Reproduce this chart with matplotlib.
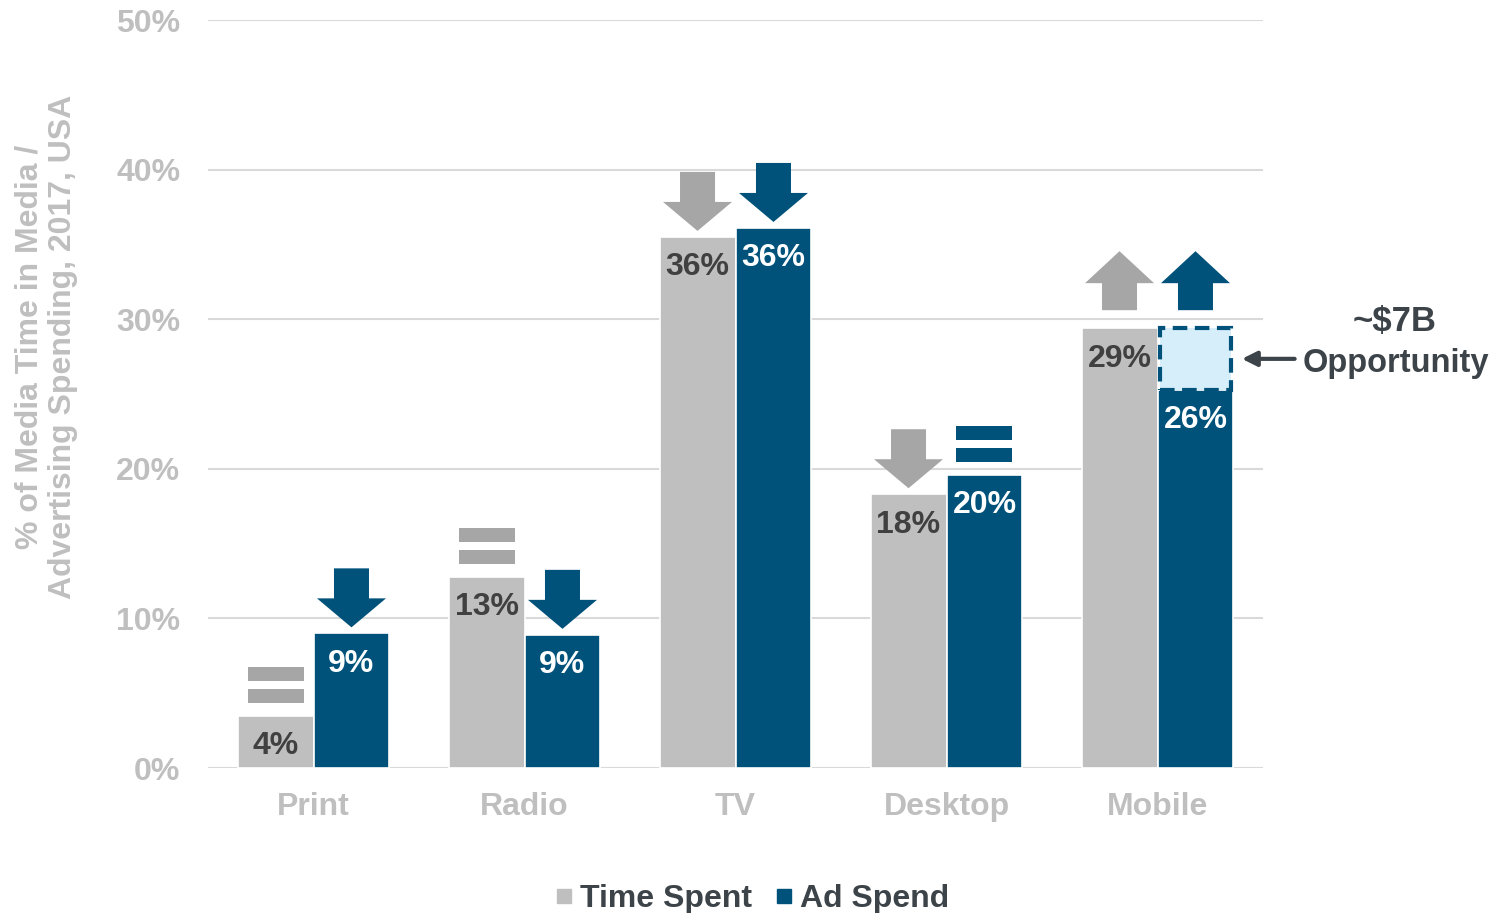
import matplotlib
matplotlib.use("Agg")
import matplotlib.pyplot as plt
from matplotlib.patches import Polygon, Rectangle
from matplotlib.lines import Line2D

plt.rcParams['font.family'] = ['Liberation Sans', 'DejaVu Sans']

categories = ["Print", "Radio", "TV", "Desktop", "Mobile"]
time_spent = [3.5, 12.8, 35.5, 18.3, 29.4]
ad_spend = [9.0, 8.9, 36.1, 19.6, 25.3]
time_labels = ["4%", "13%", "36%", "18%", "29%"]
ad_labels = ["9%", "9%", "36%", "20%", "26%"]
time_trend = ["equal", "equal", "down", "down", "up"]
ad_trend = ["down", "down", "down", "equal", "up"]
opportunity_top = 29.4  # Mobile ad spend potential
yticks = [0, 10, 20, 30, 40, 50]

GRAY = "#bfbfbf"
GRAY_IND = "#a6a6a6"
BLUE = "#00527b"
LIGHT = "#d6eefa"
DARK = "#3d4449"
TICK = "#bfbfbf"

W, H = 1499, 913
fig = plt.figure(figsize=(W / 100, H / 100), dpi=100)
ax = fig.add_axes([208 / W, 1 - 768 / H, (1263 - 208) / W, (768 - 20) / H])

x = list(range(len(categories)))
bw = 0.36
off = 0.18
ax.bar([i - off for i in x], time_spent, width=bw, color=GRAY, edgecolor="white", linewidth=1.2, zorder=2)
ax.bar([i + off for i in x], ad_spend, width=bw, color=BLUE, edgecolor="white", linewidth=1.2, zorder=2)

ax.set_xlim(-0.5, len(categories) - 0.5)
ax.set_ylim(0, 50)
ax.set_yticks(yticks)
ax.set_yticklabels([f"{t}%" for t in yticks])
ax.set_xticks(x)
ax.set_xticklabels(categories)
for s in ax.spines.values():
    s.set_visible(False)
ax.tick_params(axis="both", length=0, labelsize=23, labelcolor=TICK)
ax.tick_params(axis="y", pad=20)
ax.tick_params(axis="x", pad=17)
for lab in ax.get_xticklabels() + ax.get_yticklabels():
    lab.set_fontweight("bold")
ax.yaxis.grid(True, color="#d9d9d9", linewidth=1.5, zorder=0)
ax.set_axisbelow(True)

# data labels
for i in x:
    ax.annotate(time_labels[i], (i - off, time_spent[i]), xytext=(0, -22), textcoords="offset points",
                ha="center", va="center", fontsize=23, fontweight="bold", color="#404040", zorder=4)
    ax.annotate(ad_labels[i], (i + off, ad_spend[i]), xytext=(0, -22), textcoords="offset points",
                ha="center", va="center", fontsize=23, fontweight="bold", color="white", zorder=4)

# px -> data conversions
PX_X = 1 / 211.0
PX_Y = 50 / 748.0


def draw_indicator(xc, ytop, kind, color):
    if kind == "down":
        gap = 6 * PX_Y
        h = 59 * PX_Y
        hl = 29 * PX_Y
        sw = 35 * PX_X / 2
        hw = 69 * PX_X / 2
        tip = ytop + gap
        pts = [(xc, tip), (xc - hw, tip + hl), (xc - sw, tip + hl), (xc - sw, tip + h),
               (xc + sw, tip + h), (xc + sw, tip + hl), (xc + hw, tip + hl)]
        ax.add_patch(Polygon(pts, closed=True, color=color, zorder=3, lw=0))
    elif kind == "up":
        gap = 18 * PX_Y
        h = 59 * PX_Y
        hl = 32 * PX_Y
        sw = 35 * PX_X / 2
        hw = 69 * PX_X / 2
        base = ytop + gap
        tip = base + h
        pts = [(xc, tip), (xc - hw, tip - hl), (xc - sw, tip - hl), (xc - sw, base),
               (xc + sw, base), (xc + sw, tip - hl), (xc + hw, tip - hl)]
        ax.add_patch(Polygon(pts, closed=True, color=color, zorder=3, lw=0))
    else:
        gap = 13 * PX_Y
        th = 14 * PX_Y
        sp = 8 * PX_Y
        w = 56 * PX_X
        y0 = ytop + gap
        ax.add_patch(Rectangle((xc - w / 2, y0), w, th, color=color, zorder=3, lw=0))
        ax.add_patch(Rectangle((xc - w / 2, y0 + th + sp), w, th, color=color, zorder=3, lw=0))


for i in x:
    draw_indicator(i - off, time_spent[i], time_trend[i], GRAY_IND)
    top = opportunity_top if categories[i] == "Mobile" else ad_spend[i]
    draw_indicator(i + off, top, ad_trend[i], BLUE)

# opportunity box
mi = categories.index("Mobile")
ax.add_patch(Rectangle((mi + off - bw / 2 + 0.01, ad_spend[mi]), bw - 0.02, opportunity_top - ad_spend[mi],
                       facecolor=LIGHT, edgecolor=BLUE, linewidth=3, linestyle=(0, (3.5, 1.8)), zorder=3))

ymid = (ad_spend[mi] + opportunity_top) / 2
ax.annotate("", xy=(mi + off + bw / 2 + 0.04, ymid), xytext=(mi + off + bw / 2 + 0.29, ymid),
            arrowprops=dict(arrowstyle="-|>", color=DARK, lw=3, mutation_scale=22,
                            shrinkA=0, shrinkB=0), annotation_clip=False)
fig.text(1395 / W, 1 - 322 / H, "~$7B", ha="center", va="center", fontsize=25, fontweight="bold", color=DARK)
fig.text(1396 / W, 1 - 363 / H, "Opportunity", ha="center", va="center", fontsize=23.5, fontweight="bold", color=DARK)

# y label
fig.text(46 / W, 1 - 347 / H, "% of Media Time in Media /\nAdvertising Spending, 2017, USA", rotation=90,
         ha="center", va="center", multialignment="center", fontsize=23, fontweight="bold", color=TICK,
         linespacing=1.15)

# legend
handles = [Line2D([], [], marker="s", linestyle="", markersize=10, color=GRAY, label="Time Spent"),
           Line2D([], [], marker="s", linestyle="", markersize=10, color=BLUE, label="Ad Spend")]
leg = fig.legend(handles=handles, loc="center", bbox_to_anchor=(0.5, 1 - 899 / H), ncol=2, frameon=False,
                 handletextpad=0.05, columnspacing=0.55, handlelength=0.9,
                 prop=dict(size=23, weight="bold"))
for t in leg.get_texts():
    t.set_color(DARK)

fig.savefig("out.png", dpi=100)
